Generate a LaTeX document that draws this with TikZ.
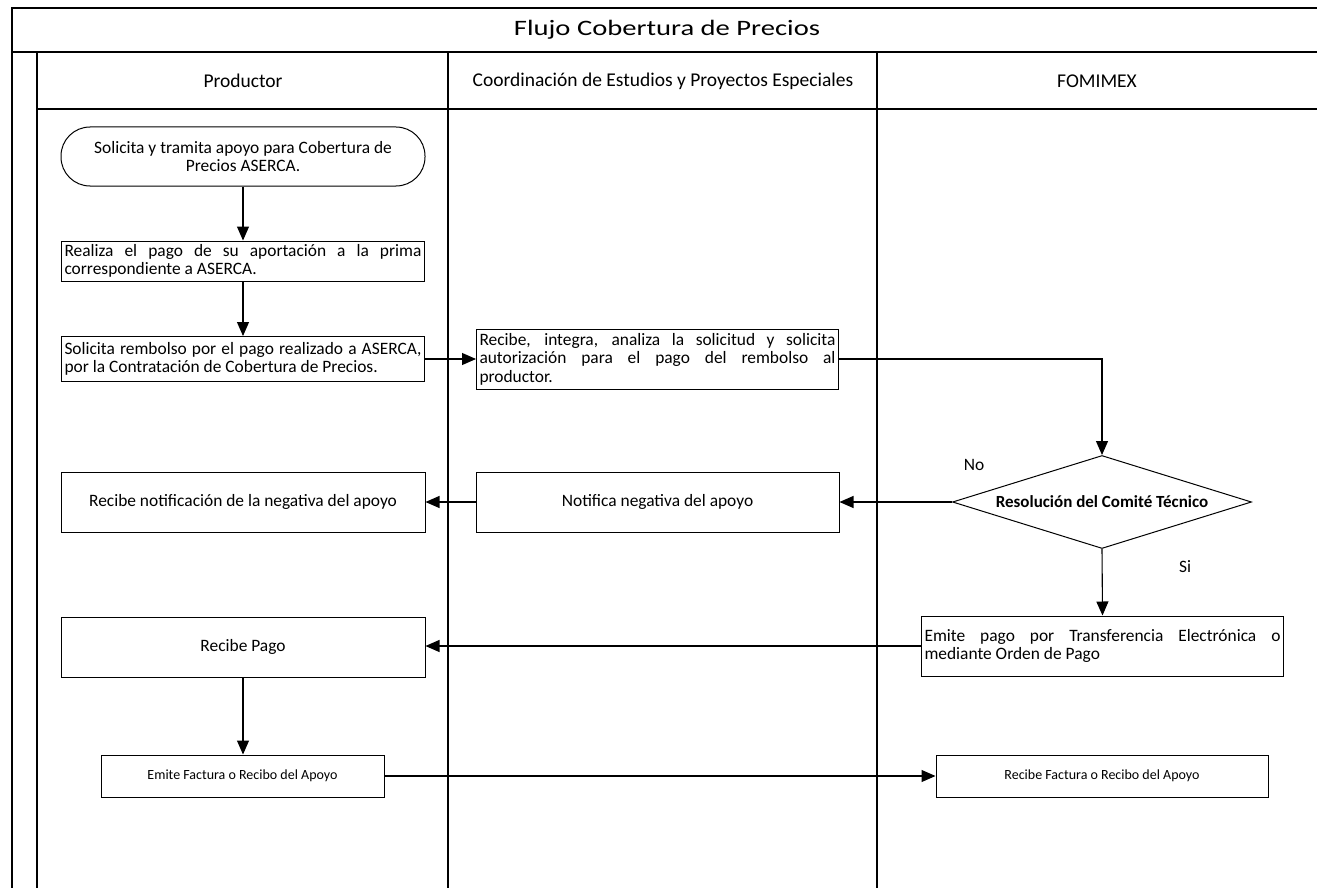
\documentclass[tikz,border=0pt]{standalone}
\usepackage{graphicx}
\usepackage{fontspec}
\setmainfont{Carlito}
\usetikzlibrary{arrows.meta,shapes.geometric}
\tikzset{
  frame/.style={line width=1.5pt, draw=black},
  proc/.style={draw, line width=1pt, inner sep=0pt, align=center,
               font=\fontsize{17.4}{18.5}\selectfont},
  jbox/.style={draw, line width=1pt, inner xsep=3pt, inner ysep=1pt,
               text width=357pt, align=justify,
               font=\fontsize{17.4}{18.5}\selectfont},
  small/.style={draw, line width=1pt, inner sep=0pt,
                font=\fontsize{14}{16}\selectfont},
  lanehead/.style={font=\fontsize{19.5}{22}\selectfont},
  lbl/.style={font=\fontsize{17.4}{19}\selectfont},
  conn/.style={line width=1.1pt, -{Triangle[length=14pt,width=12pt]}},
  decision/.style={draw, diamond, aspect=3.2, line width=1pt, inner sep=0pt,
                   minimum width=299pt, minimum height=93pt,
                   font=\bfseries\fontsize{17}{19}\selectfont},
}
\begin{document}
\begin{tikzpicture}[x=1pt, y=-1pt]
\useasboundingbox (0,0) rectangle (1317,888);
\clip (0,0) rectangle (1317,888);
\hyphenpenalty=10000
% pool frame
\draw[frame] (12,890) -- (12,8) -- (1330,8);
\draw[frame] (12,52) -- (1330,52);
\draw[frame] (37,109) -- (1330,109);
\draw[frame] (37,52) -- (37,890);
\draw[frame] (448,52) -- (448,890);
\draw[frame] (877,52) -- (877,890);
% title and lane headers
\node (title) at (667,30) {\scalebox{1.3}[1]{\fontsize{22}{26}\selectfont Flujo Cobertura de Precios}};
\node[lanehead] (h1) at (243,81) {Productor};
\node[lanehead] (h2) at (663,81) {Coordinación de Estudios y Proyectos Especiales};
\node[lanehead] (h3) at (1097,81) {FOMIMEX};
% nodes
\node[proc, rounded corners=29pt, minimum width=364pt, minimum height=59pt] (start) at (243,156.5)
  {Solicita y tramita apoyo para Cobertura de\\Precios ASERCA.};
\node[jbox, minimum height=40pt] (real) at (243,261)
  {Realiza el pago de su aportación a la prima\linebreak correspondiente a ASERCA.};
\node[jbox, minimum height=45pt] (sol) at (243,359)
  {Solicita rembolso por el pago realizado a ASERCA,\linebreak por la Contratación de Cobertura de Precios.};
\node[jbox, text width=356pt, minimum height=60pt] (rec) at (657.5,359)
  {Recibe, integra, analiza la solicitud y solicita\linebreak autorización para el pago del rembolso al\linebreak productor.};
\node[decision] (dia) at (1102,502) {Resolución del Comité Técnico};
\node[proc, minimum width=363pt, minimum height=60pt] (notif) at (657.5,502) {Notifica negativa del apoyo};
\node[proc, minimum width=364pt, minimum height=60pt] (rnot) at (243,502) {Recibe notificación de la negativa del apoyo};
\node[jbox, text width=356pt, minimum height=60pt] (emp) at (1102.5,646)
  {Emite pago por Transferencia Electrónica o\linebreak mediante Orden de Pago};
\node[proc, minimum width=364pt, minimum height=60pt] (rpago) at (243,647) {Recibe Pago};
\node[small, minimum width=283pt, minimum height=42pt] (efac) at (242.5,776) {Emite Factura o Recibo del Apoyo};
\node[small, minimum width=332pt, minimum height=42pt] (rfac) at (1102,776) {Recibe Factura o Recibo del Apoyo};
% labels
\node[lbl] (no) at (974,465) {No};
\node[lbl] (si) at (1185,567) {Si};
% connectors
\draw[conn] (start) -- (real);
\draw[conn] (real) -- (sol);
\draw[conn] (sol.east) -- (rec.west);
\draw[conn] (rec.east) -| (dia.north);
\draw[conn] (dia.west) -- (notif.east);
\draw[conn] (notif.west) -- (rnot.east);
\draw[conn] (dia.south) -- (emp.north);
\draw[conn] (emp.west) -- (emp.west -| rpago.east);
\draw[conn] (rpago.south) -- (rpago.south |- efac.north);
\draw[conn] (efac.east) -- (rfac.west);
\end{tikzpicture}
\end{document}
